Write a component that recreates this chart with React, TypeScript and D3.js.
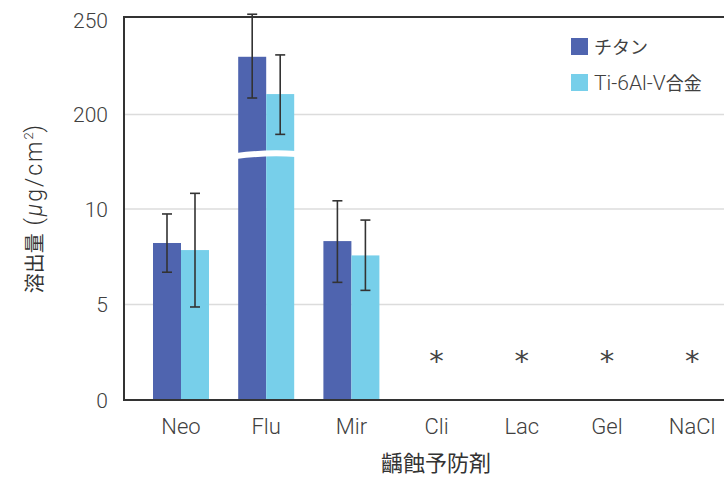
import React from "react";
import * as d3 from "d3";

const categories = ["Neo", "Flu", "Mir", "Cli", "Lac", "Gel", "NaCl"];
const seriesNames = [
  [{ t: "チタン", cjk: true }],
  [
    { t: "Ti-6Al-V", cjk: false },
    { t: "合金", cjk: true },
  ],
];
const titaniumValues = [8.22, 230.8, 8.32, null, null, null, null];
const titaniumErrLow = [6.69, 208.8, 6.16, null, null, null, null];
const titaniumErrHigh = [9.74, 253.5, 10.43, null, null, null, null];
const alloyValues = [7.85, 210.9, 7.57, null, null, null, null];
const alloyErrLow = [4.87, 189.4, 5.74, null, null, null, null];
const alloyErrHigh = [10.82, 231.8, 9.42, null, null, null, null];
const notDetected = [false, false, false, true, true, true, true];
const lowTicks = [0, 5, 10];
const highTicks = [200, 250];

const colors = ["#4F64AF", "#77CFEA"];
const W = 724;
const H = 479;
const axisX = 124;
const topY = 17;
const baseY = 400;
const breakY = 154;
const font = "Roboto, 'Noto Sans CJK JP', sans-serif";
const cjkFont = "'Noto Sans CJK JP', sans-serif";
const textColor = "#404040";

// Broken value axis: a lower segment for small values, an upper one for the large range
const yLow = d3.scaleLinear().domain([0, 10]).range([baseY, 209]);
const yHigh = d3.scaleLinear().domain([200, 250]).range([114.5, 20.8]);
const y = (v: number) => (v < 100 ? yLow(v) : yHigh(v));

const x = d3.scaleBand<string>().domain(categories).range([138.4, 734.8]).paddingInner(0).paddingOuter(0);
const barW = 28;

const series = [
  { values: titaniumValues, lo: titaniumErrLow, hi: titaniumErrHigh },
  { values: alloyValues, lo: alloyErrLow, hi: alloyErrHigh },
];

export default function App() {
  const gridVals = [5, 10, 200];
  return (
    <svg width={W} height={H} style={{ position: "absolute", left: 0, top: 0, background: "#fff" }}>
      {/* gridlines */}
      {gridVals.map((v) => (
        <line key={v} x1={axisX} x2={W} y1={y(v)} y2={y(v)} stroke="#dcdcdc" strokeWidth={1.5} />
      ))}
      {/* bars */}
      {categories.map((c, i) => {
        const cx = x(c)! + x.bandwidth() / 2;
        return series.map((s, k) => {
          const v = s.values[i];
          if (v == null) return null;
          const bx = cx - barW + k * barW;
          return <rect key={c + k} x={bx} y={y(v)} width={barW} height={baseY - y(v)} fill={colors[k]} />;
        });
      })}
      {/* axis break across tall bars */}
      {categories.map((c, i) => {
        const v = titaniumValues[i];
        if (v == null || v < 100) return null;
        const cx = x(c)! + x.bandwidth() / 2;
        const x0 = cx - barW - 2;
        const x1 = cx + barW + 2;
        const xm = (x0 + x1) / 2;
        return (
          <path
            key={"brk" + c}
            d={`M${x0},${breakY - 1} Q${xm},${breakY - 5} ${x1},${breakY - 3} L${x1},${breakY + 3} Q${xm},${breakY + 1} ${x0},${breakY + 5} Z`}
            fill="#fff"
          />
        );
      })}
      {/* error bars */}
      {categories.map((c, i) => {
        const cx = x(c)! + x.bandwidth() / 2;
        return series.map((s, k) => {
          const lo = s.lo[i];
          const hi = s.hi[i];
          if (lo == null || hi == null) return null;
          const ex = cx - barW / 2 + k * barW;
          return (
            <g key={"e" + c + k} stroke="#333" strokeWidth={1.6}>
              <line x1={ex} x2={ex} y1={y(lo)} y2={y(hi)} />
              <line x1={ex - 5} x2={ex + 5} y1={y(lo)} y2={y(lo)} />
              <line x1={ex - 5} x2={ex + 5} y1={y(hi)} y2={y(hi)} />
            </g>
          );
        });
      })}
      {/* not-detected markers */}
      {categories.map((c, i) =>
        notDetected[i] ? (
          <text key={"nd" + c} x={x(c)! + x.bandwidth() / 2} y={371} textAnchor="middle" fontFamily="'DejaVu Sans', sans-serif" fontSize={29} fill="#444">
            *
          </text>
        ) : null
      )}
      {/* frame */}
      <line x1={axisX} x2={W} y1={topY} y2={topY} stroke="#333" strokeWidth={2} />
      <line x1={axisX} x2={W} y1={baseY} y2={baseY} stroke="#333" strokeWidth={2} />
      <line x1={axisX} x2={axisX} y1={topY - 1} y2={baseY + 1} stroke="#333" strokeWidth={2} />
      {/* y tick labels */}
      {[...lowTicks, ...highTicks].map((t) => (
        <text key={"t" + t} x={108} y={y(t)} dy="0.36em" textAnchor="end" fontFamily={font} fontWeight={300} fontSize={21} fill={textColor}>
          {t}
        </text>
      ))}
      {/* category labels */}
      {categories.map((c) => (
        <text key={"c" + c} x={x(c)! + x.bandwidth() / 2} y={434} textAnchor="middle" fontFamily={font} fontWeight={300} fontSize={22} fill={textColor}>
          {c}
        </text>
      ))}
      {/* axis titles */}
      <text x={436} y={471} textAnchor="middle" fontFamily={cjkFont} fontSize={22} fill="#333">
        齲蝕予防剤
      </text>
      <text transform="translate(42,209) rotate(-90)" textAnchor="middle" fill="#333">
        <tspan fontFamily={cjkFont} fontSize={20}>溶出量</tspan>
        <tspan fontFamily={font} fontWeight={300} fontSize={23} letterSpacing={2}>
          {" ("}
          <tspan fontStyle="italic">μ</tspan>g/cm
        </tspan>
        <tspan fontFamily={font} fontWeight={300} fontSize={13} dy={-9}>2</tspan>
        <tspan fontFamily={font} fontWeight={300} fontSize={23} dy={9}>)</tspan>
      </text>
      {/* legend */}
      {seriesNames.map((parts, k) => (
        <g key={"lg" + k}>
          <rect x={571} y={38 + k * 36} width={17} height={17} fill={colors[k]} />
          <text x={594} y={54 + k * 36} fill={textColor}>
            {parts.map((p, j) => (
              <tspan key={j} fontFamily={p.cjk ? cjkFont : font} fontWeight={p.cjk ? 400 : 300} fontSize={p.cjk ? 18 : 21}>
                {p.t}
              </tspan>
            ))}
          </text>
        </g>
      ))}
    </svg>
  );
}
